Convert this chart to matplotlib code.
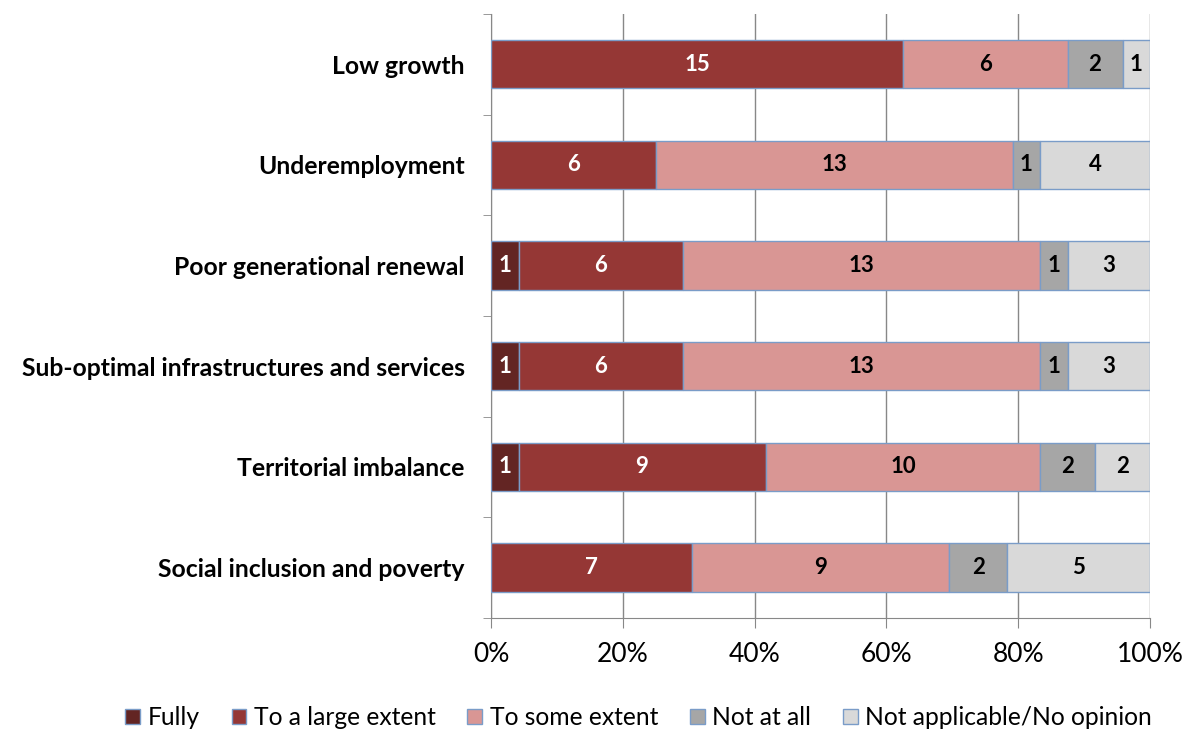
import matplotlib
matplotlib.use("Agg")
import matplotlib.pyplot as plt
import numpy as np
from matplotlib.patches import Patch

plt.rcParams["font.family"] = ["Lato", "DejaVu Sans"]

categories = [
    "Low growth",
    "Underemployment",
    "Poor generational renewal",
    "Sub-optimal infrastructures and services",
    "Territorial imbalance",
    "Social inclusion and poverty",
]
series_names = ["Fully", "To a large extent", "To some extent", "Not at all",
                "Not applicable/No opinion"]
fully = [0, 0, 1, 1, 1, 0]
large = [15, 6, 6, 6, 9, 7]
some = [6, 13, 13, 13, 10, 9]
not_at_all = [2, 1, 1, 1, 2, 2]
no_opinion = [1, 4, 3, 3, 2, 5]
x_ticks = [0, 0.2, 0.4, 0.6, 0.8, 1.0]
x_ticklabels = ["0%", "20%", "40%", "60%", "80%", "100%"]

colors = ["#632523", "#953735", "#D99694", "#A6A6A6", "#D9D9D9"]
text_colors = ["white", "white", "black", "black", "black"]
edge = "#7A9CC8"

counts = np.array([fully, large, some, not_at_all, no_opinion], dtype=float)
shares = counts / counts.sum(axis=0)

fig = plt.figure(figsize=(11.87, 7.31), dpi=100)
ax = fig.add_axes([0.4137, 0.1546, 0.9688 - 0.4137, 0.981 - 0.1546])

y = np.arange(len(categories))
left = np.zeros(len(categories))
for i, name in enumerate(series_names):
    ax.barh(y, shares[i], left=left, height=0.48, color=colors[i],
            edgecolor=edge, linewidth=1.0, label=name, zorder=3)
    for j in range(len(categories)):
        if counts[i, j] > 0:
            ax.text(left[j] + shares[i, j] / 2, y[j], f"{int(counts[i, j])}",
                    ha="center", va="center", fontsize=16, fontweight="bold",
                    color=text_colors[i], zorder=4)
    left += shares[i]

ax.set_ylim(len(categories) - 0.5, -0.5)
ax.set_xlim(0, 1)
ax.set_xticks(x_ticks)
ax.set_xticklabels(x_ticklabels, fontsize=19)
ax.set_yticks(y)
ax.set_yticklabels(categories, fontsize=17.8, fontweight="bold")
ax.tick_params(axis="y", length=0, pad=19)
ax.set_yticks(np.arange(-0.5, len(categories), 1.0), minor=True)
ax.tick_params(axis="y", which="minor", length=6, color="#888888")
ax.tick_params(axis="x", length=7, color="#888888", pad=10)
ax.grid(axis="x", color="#888888", linewidth=1.0, zorder=0)
for s in ["top", "right"]:
    ax.spines[s].set_visible(False)
for s in ["left", "bottom"]:
    ax.spines[s].set_color("#888888")

handles = [Patch(facecolor=c, edgecolor=edge, label=n) for c, n in zip(colors, series_names)]
fig.legend(handles=handles, loc="center", bbox_to_anchor=(0.538, 0.018), ncol=5,
           frameon=False, fontsize=17.7, handlelength=0.6, handleheight=0.6,
           handletextpad=0.3, columnspacing=1.3, borderpad=0)

fig.savefig("out.png", dpi=100)
